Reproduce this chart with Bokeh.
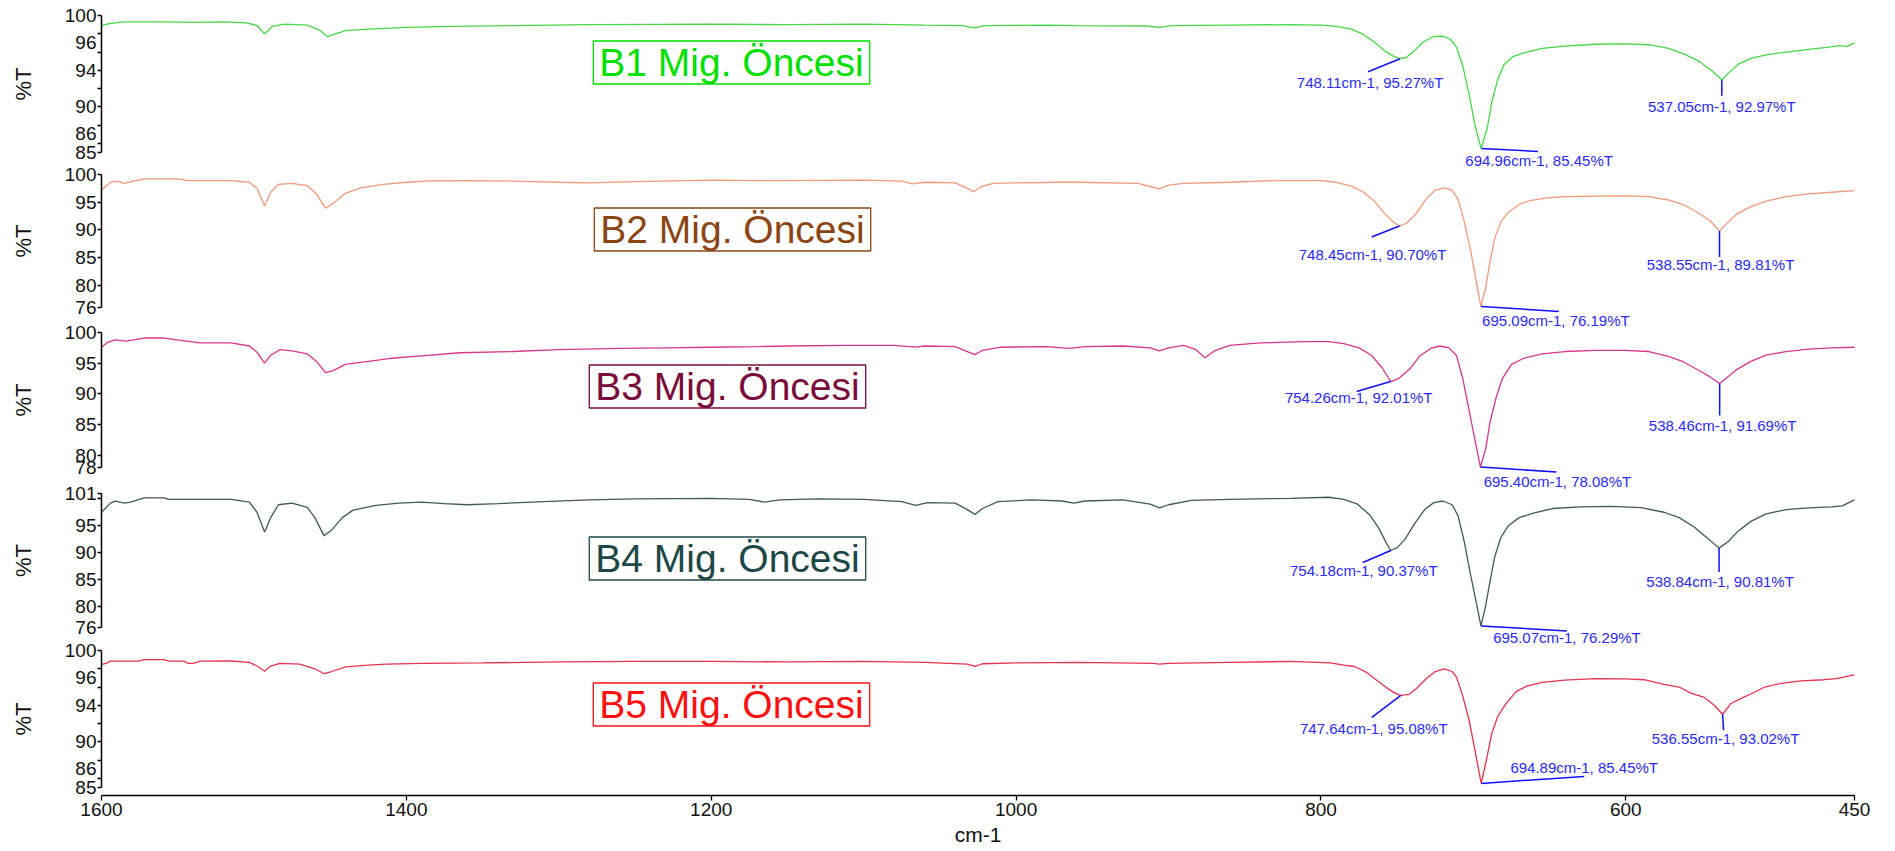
from bokeh.plotting import figure
from bokeh.models import Range1d, FixedTicker, Label, ColumnDataSource, LinearAxis
from bokeh.embed import file_html
from bokeh.resources import INLINE

# ---------------- data ----------------
wn_b1 = [1600, 1595, 1585, 1560, 1540, 1520, 1505, 1498, 1493, 1488, 1480, 1465, 1457, 1452, 1447, 1440, 1425, 1400, 1370, 1330, 1280, 1200, 1150, 1100, 1060, 1035, 1028, 1020, 980, 960, 915, 906, 898, 860, 820, 800, 790, 780, 772, 765, 758, 752, 748.11, 744, 739, 733, 726, 720, 715, 711, 707, 703, 699, 694.96, 691, 688, 684, 680, 674, 667, 655, 640, 620, 600, 585, 572, 562, 552, 544, 537.05, 532, 526, 518, 508, 495, 480, 468, 460, 455, 450]
t_b1 = [98.9, 99.1, 99.3, 99.3, 99.25, 99.3, 99.2, 98.9, 98.0, 98.8, 99.05, 98.95, 98.4, 97.7, 97.95, 98.35, 98.5, 98.7, 98.8, 98.9, 99.0, 99.05, 99.0, 99.05, 98.95, 98.9, 98.65, 98.9, 98.95, 98.9, 98.85, 98.7, 98.9, 98.95, 99.0, 98.95, 98.8, 98.5, 97.9, 97.1, 96.1, 95.5, 95.27, 95.4, 96.1, 97.1, 97.7, 97.75, 97.4, 96.5, 94.5, 91.5, 88.0, 85.45, 87.6, 90.5, 93.0, 94.6, 95.5, 95.9, 96.4, 96.65, 96.85, 96.9, 96.8, 96.4, 95.8, 95.0, 94.0, 92.97, 93.8, 94.7, 95.3, 95.7, 96.0, 96.3, 96.5, 96.7, 96.6, 97.0]

wn_b2 = [1600, 1594, 1589, 1585, 1579, 1572, 1550, 1543, 1530, 1515, 1503, 1498, 1493, 1489, 1484, 1475, 1465, 1459, 1453, 1448, 1440, 1430, 1415, 1400, 1385, 1360, 1330, 1300, 1280, 1250, 1200, 1170, 1150, 1100, 1075, 1068, 1060, 1040, 1032, 1028, 1023, 1015, 1000, 970, 960, 920, 910, 906, 900, 890, 860, 830, 800, 790, 780, 772, 765, 758, 752, 748.45, 744, 738, 731, 725, 719, 714, 710, 706, 702, 698, 695.09, 692, 689, 686, 682, 677, 670, 663, 652, 640, 620, 600, 585, 572, 562, 552, 545, 538.55, 533, 527, 518, 508, 495, 480, 465, 450]
t_b2 = [97.2, 98.6, 98.8, 98.4, 98.8, 99.2, 99.2, 98.9, 98.9, 98.9, 98.6, 97.5, 94.3, 96.8, 98.2, 98.4, 98.0, 96.5, 93.9, 94.8, 96.6, 97.6, 98.2, 98.6, 98.85, 98.9, 98.8, 98.6, 98.5, 98.7, 99.0, 98.9, 98.9, 99.0, 98.8, 98.3, 98.6, 98.5, 97.5, 96.9, 97.8, 98.4, 98.5, 98.6, 98.6, 98.4, 97.7, 97.4, 98.1, 98.4, 98.6, 98.9, 98.9, 98.6, 97.9, 96.8, 95.2, 92.9, 91.3, 90.70, 91.2, 92.8, 95.6, 97.2, 97.6, 97.2, 95.5, 91.5, 86.5, 80.5, 76.19, 79.5, 84.5, 88.5, 91.5, 93.2, 94.6, 95.3, 95.8, 96.0, 96.1, 96.15, 96.0, 95.4, 94.5, 93.0, 91.7, 89.81, 91.4, 92.9, 94.2, 95.2, 96.0, 96.5, 96.8, 97.1]

wn_b3 = [1600, 1596, 1591, 1584, 1579, 1572, 1559, 1548, 1535, 1515, 1503, 1498, 1493, 1489, 1483, 1475, 1465, 1459, 1453, 1448, 1440, 1425, 1410, 1390, 1365, 1330, 1300, 1260, 1230, 1200, 1170, 1150, 1110, 1080, 1066, 1060, 1040, 1032, 1027, 1022, 1010, 980, 965, 955, 930, 912, 906, 900, 890, 882, 876, 870, 860, 840, 810, 795, 785, 775, 767, 760, 754.26, 749, 742, 735, 728, 722, 716, 711, 707, 703, 699, 695.40, 692, 689, 685, 681, 675, 667, 655, 640, 620, 600, 585, 572, 562, 552, 545, 538.46, 533, 527, 518, 508, 495, 480, 465, 450]
t_b3 = [97.6, 98.4, 98.8, 98.6, 98.8, 99.1, 99.1, 98.7, 98.3, 98.3, 97.8, 96.8, 95.0, 96.3, 97.2, 97.0, 96.5, 95.3, 93.45, 93.8, 94.8, 95.3, 95.8, 96.2, 96.7, 96.9, 97.2, 97.4, 97.5, 97.6, 97.7, 97.8, 97.9, 97.9, 97.6, 97.8, 97.7, 96.9, 96.4, 97.1, 97.6, 97.7, 97.4, 97.7, 97.8, 97.5, 97.0, 97.5, 97.9, 97.2, 95.9, 97.0, 97.9, 98.3, 98.5, 98.5, 98.2, 97.5, 96.3, 94.3, 92.01, 92.5, 94.0, 96.2, 97.4, 97.8, 97.5, 96.2, 92.5, 87.5, 82.5, 78.08, 81.0, 85.5, 89.5, 92.5, 94.8, 95.8, 96.5, 96.9, 97.1, 97.1, 96.9, 96.1, 95.2, 93.8, 92.8, 91.69, 92.8, 94.0, 95.3, 96.3, 96.9, 97.3, 97.5, 97.6]

wn_b4 = [1600, 1594, 1591, 1585, 1581, 1572, 1559, 1556, 1535, 1515, 1503, 1498, 1493, 1489, 1484, 1475, 1465, 1460, 1454, 1449, 1442, 1435, 1420, 1405, 1390, 1375, 1360, 1340, 1310, 1280, 1250, 1200, 1175, 1165, 1155, 1130, 1100, 1075, 1066, 1058, 1040, 1032, 1027, 1022, 1012, 990, 970, 962, 955, 930, 912, 906, 900, 885, 860, 820, 795, 785, 776, 768, 762, 757, 754.18, 750, 745, 739, 732, 726, 720, 714, 710, 706, 702, 698, 695.07, 692, 689, 686, 682, 677, 670, 660, 648, 630, 610, 590, 575, 565, 555, 547, 538.84, 533, 527, 518, 508, 495, 480, 465, 458, 450]
t_b4 = [97.5, 99.2, 99.56, 99.2, 99.4, 100.2, 100.2, 99.9, 99.9, 99.9, 99.4, 97.5, 93.8, 96.5, 98.9, 99.2, 98.4, 96.5, 93.1, 94.2, 96.5, 97.9, 98.8, 99.2, 99.4, 99.1, 98.9, 99.1, 99.5, 99.8, 100.0, 100.1, 99.9, 99.4, 99.8, 100.0, 99.9, 99.5, 98.8, 99.3, 99.2, 98.0, 97.1, 98.2, 99.5, 99.8, 99.6, 99.2, 99.6, 99.8, 99.0, 98.3, 98.9, 99.7, 99.9, 100.1, 100.3, 99.9, 99.0, 97.0, 94.5, 91.7, 90.37, 90.9, 92.4, 95.2, 98.0, 99.3, 99.6, 98.9, 96.8, 92.0, 86.0, 80.5, 76.29, 80.0, 84.8, 89.2, 92.8, 95.0, 96.5, 97.4, 98.2, 98.5, 98.6, 98.35, 97.5, 96.5, 94.7, 92.8, 90.81, 92.0, 93.8, 95.8, 97.2, 98.0, 98.3, 98.5, 98.7, 99.8]

wn_b5 = [1600, 1597, 1594, 1576, 1572, 1559, 1556, 1546, 1543, 1540, 1535, 1515, 1503, 1498, 1493, 1489, 1483, 1470, 1460, 1454, 1449, 1440, 1425, 1413, 1390, 1350, 1300, 1250, 1200, 1150, 1100, 1060, 1032, 1027, 1022, 1000, 960, 910, 906, 900, 860, 820, 794, 785, 778, 770, 763, 756, 751, 747.64, 742, 737, 731, 725, 719, 714, 711, 707, 703, 699, 694.89, 691, 688, 684, 679, 672, 665, 655, 640, 620, 600, 588, 575, 565, 557, 549, 542, 536.55, 531, 525, 516, 509, 498, 485, 470, 462, 450]
t_b5 = [98.47, 98.6, 98.83, 98.83, 99.0, 99.0, 98.83, 98.83, 98.6, 98.6, 98.83, 98.85, 98.7, 98.3, 97.73, 98.3, 98.6, 98.5, 98.0, 97.46, 97.7, 98.2, 98.4, 98.5, 98.6, 98.65, 98.75, 98.8, 98.8, 98.75, 98.8, 98.7, 98.5, 98.25, 98.55, 98.65, 98.7, 98.6, 98.5, 98.6, 98.7, 98.8, 98.65, 98.4, 98.25, 97.6, 96.7, 95.8, 95.3, 95.08, 95.2, 95.9, 96.9, 97.7, 97.99, 97.7, 97.06, 95.0, 92.5, 89.1, 85.45, 88.4, 90.9, 92.8, 94.1, 95.5, 96.1, 96.5, 96.75, 96.93, 96.9, 96.8, 96.3, 96.0, 95.3, 94.9, 94.0, 93.02, 94.2, 94.7, 95.4, 96.0, 96.4, 96.67, 96.8, 96.93, 97.33]

names = ["B1 Mig. Öncesi", "B2 Mig. Öncesi", "B3 Mig. Öncesi", "B4 Mig. Öncesi", "B5 Mig. Öncesi"]

# marked peaks (wavenumber, %T)
peak_wn_b1 = [748.11, 694.96, 537.05]
peak_t_b1 = [95.27, 85.45, 92.97]
peak_wn_b2 = [748.45, 695.09, 538.55]
peak_t_b2 = [90.70, 76.19, 89.81]
peak_wn_b3 = [754.26, 695.40, 538.46]
peak_t_b3 = [92.01, 78.08, 91.69]
peak_wn_b4 = [754.18, 695.07, 538.84]
peak_t_b4 = [90.37, 76.29, 90.81]
peak_wn_b5 = [747.64, 694.89, 536.55]
peak_t_b5 = [95.08, 85.45, 93.02]

# y-axis bounds and ticks per panel
y_lo = [85, 76, 78, 76, 85]
y_hi = [100, 100, 100, 101, 100]
y_major = [[85, 86, 90, 94, 96, 100], [76, 80, 85, 90, 95, 100], [78, 80, 85, 90, 95, 100],
           [76, 80, 85, 90, 95, 101], [85, 86, 90, 94, 96, 100]]
y_minor = [[88, 92, 98], [], [], [100], [88, 92, 98]]
# tick labels that the instrument software prints just above their tick (to avoid crowding)
y_raised = [[86, 96], [], [], [], [86, 96]]
x_ticks = [1600, 1400, 1200, 1000, 800, 600, 450]
x_lo, x_hi = 450, 1600
x_title = "cm-1"
y_title = "%T"

# ---------------- style / layout ----------------
line_colors = ["#46d846", "#f29a7c", "#d9368f", "#3e5c58", "#e8344e"]
text_colors = ["#00e000", "#8b4513", "#7a0c3c", "#1e4848", "#ff1010"]
ann_color = "#2a2aff"
FONT = "Liberation Sans"
TICK_FONT = "19px"
RAISE_PX = 9.5

W, H = 1890, 848
LEFT = 101            # x of 1600 cm-1 on the page (px)
RIGHT_EDGE = 1854     # x of 450 cm-1 on the page (px)
X_AXIS_Y = 795        # x-axis line (page px)
X_TITLE_Y = 834       # centre of the x title (page px)
X_SCALE = (RIGHT_EDGE - LEFT) / float(x_hi - x_lo)  # px per cm-1

# each panel's y-axis extent on the page (top px, bottom px)
ax_top = [15, 174, 332, 493, 650]
ax_bot = [152, 307, 467, 627, 787]

# name-box centres on the page (px)
box_cx = [731, 732, 727, 727, 731]
box_cy = [62, 229, 386, 558, 704]

# annotation offsets in px (leader end dx, dy ; label centre dx, dy), y downward
ann_off = [
    [(-32, 13, -30, 24), (57, 3, 58, 12), (0, 16, 0, 27)],
    [(-28, 11, -27, 28), (78, 5, 75, 14), (0, 26, 1, 34)],
    [(-34, 10, -32, 16), (76, 5, 77, 14), (0, 32, 3, 42)],
    [(-28, 12, -27, 20), (86, 5, 86, 12), (0, 24, 1, 33)],
    [(-29, 22, -27, 33), (103, -7, 103, -16), (1, 16, 3, 24)],
]

series_wn = [wn_b1, wn_b2, wn_b3, wn_b4, wn_b5]
series_t = [t_b1, t_b2, t_b3, t_b4, t_b5]
peaks_wn = [peak_wn_b1, peak_wn_b2, peak_wn_b3, peak_wn_b4, peak_wn_b5]
peaks_t = [peak_t_b1, peak_t_b2, peak_t_b3, peak_t_b4, peak_t_b5]


def style_axis(ax):
    ax.axis_line_color = "black"
    ax.axis_line_width = 1.5
    ax.major_tick_line_color = "black"
    ax.minor_tick_line_color = "black"
    ax.major_tick_line_width = 1.3
    ax.minor_tick_line_width = 1.3
    ax.major_tick_out = 4
    ax.major_tick_in = 0
    ax.minor_tick_out = 4
    ax.minor_tick_in = 0
    ax.major_label_standoff = 1
    ax.major_label_text_font = FONT
    ax.major_label_text_font_size = TICK_FONT
    ax.major_label_text_color = "#111111"


# The frame covers the whole canvas; axes are drawn at fixed locations inside it.
# Default y range = page pixel rows (top 0, bottom H), used for the x axis and its title.
x_start = x_hi + LEFT / X_SCALE
x_end = x_lo - (W - RIGHT_EDGE) / X_SCALE
p = figure(width=W, height=H, x_range=Range1d(x_start, x_end), y_range=Range1d(H, 0),
           output_backend="svg", toolbar_location=None, y_axis_location=None,
           x_axis_location=None,
           min_border_left=0, min_border_right=0, min_border_top=0, min_border_bottom=0)
p.outline_line_color = None
p.xgrid.visible = False
p.ygrid.visible = False
p.background_fill_color = "white"
p.border_fill_color = "white"

xa = LinearAxis(fixed_location=X_AXIS_Y, bounds=(x_lo, x_hi), ticker=FixedTicker(ticks=x_ticks))
style_axis(xa)
xa.major_tick_out = 5
xa.minor_tick_line_color = None
xa.major_label_standoff = 2
p.add_layout(xa, "below")

p.add_layout(Label(x=(x_lo + x_hi) / 2.0, y=X_TITLE_Y, text=x_title,
                   text_font=FONT, text_font_size="21px", text_color="#111111",
                   text_align="center", text_baseline="middle"))

frame_h = H
for i in range(5):
    rn = "p%d" % i
    s = (ax_bot[i] - ax_top[i]) / float(y_hi[i] - y_lo[i])
    y0 = y_lo[i] - (frame_h - ax_bot[i]) / s
    y1 = y_hi[i] + ax_top[i] / s
    p.extra_y_ranges[rn] = Range1d(y0, y1)

    main_ticks = [v for v in y_major[i] if v not in y_raised[i]]
    minor_ticks = sorted(y_minor[i] + y_raised[i])
    ya = LinearAxis(y_range_name=rn, fixed_location=x_hi, bounds=(y_lo[i], y_hi[i]),
                    ticker=FixedTicker(ticks=main_ticks, minor_ticks=minor_ticks))
    style_axis(ya)
    ya.axis_label = y_title
    ya.axis_label_text_font = FONT
    ya.axis_label_text_font_size = "22px"
    ya.axis_label_text_font_style = "normal"
    ya.axis_label_text_color = "#111111"
    ya.axis_label_standoff = 26
    p.add_layout(ya, "left")

    if y_raised[i]:
        shift = RAISE_PX / s
        pos = [v + shift for v in y_raised[i]]
        ya2 = LinearAxis(y_range_name=rn, fixed_location=x_hi,
                         bounds=(y_lo[i], y_hi[i] + 2),
                         ticker=FixedTicker(ticks=pos, minor_ticks=[]),
                         major_label_overrides={q: str(v) for q, v in zip(pos, y_raised[i])})
        style_axis(ya2)
        ya2.axis_line_color = None
        ya2.major_tick_line_color = None
        ya2.minor_tick_line_color = None
        p.add_layout(ya2, "left")

    src = ColumnDataSource(dict(x=series_wn[i], y=series_t[i]))
    p.line("x", "y", source=src, line_color=line_colors[i], line_width=1.3, y_range_name=rn)

    # peak annotations
    xs0, ys0, xs1, ys1 = [], [], [], []
    for k in range(3):
        w, t = peaks_wn[i][k], peaks_t[i][k]
        ldx, ldy, tdx, tdy = ann_off[i][k]
        xs0.append(w)
        ys0.append(t)
        xs1.append(w - ldx / X_SCALE)
        ys1.append(t - ldy / s)
        p.add_layout(Label(x=w, y=t, y_range_name=rn, x_offset=tdx, y_offset=-tdy,
                           text="%.2fcm-1, %.2f%%T" % (w, t),
                           text_font=FONT, text_font_size="15px", text_color=ann_color,
                           text_align="center", text_baseline="middle"))
    p.segment(x0=xs0, y0=ys0, x1=xs1, y1=ys1, line_color="#1010ff", line_width=1.5,
              y_range_name=rn)

    # sample name box
    bx = x_hi - (box_cx[i] - LEFT) / X_SCALE
    by = y_hi[i] - (box_cy[i] - ax_top[i]) / s
    p.add_layout(Label(x=bx, y=by, y_range_name=rn, text=names[i], text_font=FONT,
                       text_font_size="39px", text_color=text_colors[i],
                       text_align="center", text_baseline="middle",
                       border_line_color=text_colors[i], border_line_width=1.3,
                       background_fill_color="white", padding=(6, 0)))

open("out.html", "w").write(file_html(p, INLINE))
